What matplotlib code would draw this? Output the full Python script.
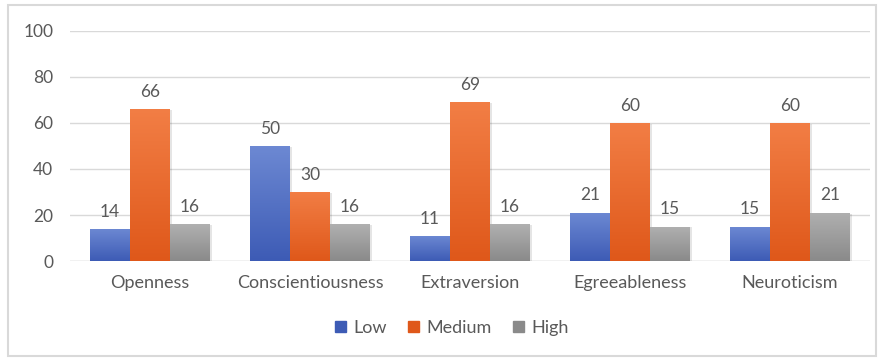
import numpy as np
import matplotlib
matplotlib.use("Agg")
import matplotlib.pyplot as plt
from matplotlib.colors import LinearSegmentedColormap
from matplotlib.patches import Rectangle

plt.rcParams['font.family'] = ['Lato', 'DejaVu Sans']

traits = ["Openness", "Conscientiousness", "Extraversion", "Egreeableness", "Neuroticism"]
low = [14, 50, 11, 21, 15]
medium = [66, 30, 69, 60, 60]
high = [16, 16, 16, 15, 21]
series_names = ["Low", "Medium", "High"]

# (top colour, bottom colour) for each series
shades = [("#6d89d3", "#3d5bb5"), ("#f27e45", "#df581a"), ("#b0b0b0", "#8a8a8a")]
text_col = "#595959"

fig = plt.figure(figsize=(8.81, 3.58), dpi=100)
ax = fig.add_axes([70 / 881, 97 / 358, 800 / 881, 230 / 358])

x = np.arange(len(traits))
w = 0.25
grad = np.linspace(0, 1, 256).reshape(-1, 1)

for i, (vals, name) in enumerate(zip([low, medium, high], series_names)):
    top, bottom = shades[i]
    cmap = LinearSegmentedColormap.from_list(name, [bottom, top])
    pos = x + (i - 1) * w
    bars = ax.bar(pos, vals, w, color=top, label=name, zorder=3)
    for b in bars:
        # soft shadow behind each bar
        sh = Rectangle((b.get_x() + 0.01, 0), b.get_width(), b.get_height() - 0.4,
                       facecolor="black", alpha=0.1, zorder=2.5, lw=0)
        ax.add_patch(sh)
        im = ax.imshow(grad, cmap=cmap, origin="lower", aspect="auto",
                       extent=[b.get_x(), b.get_x() + b.get_width(), 0, b.get_height()],
                       zorder=3.5)
        im.set_clip_path(b)
    for px, v in zip(pos, vals):
        ax.text(px, v + 4, str(v), ha="center", va="bottom", fontsize=12.5, color=text_col)

ax.set_xlim(-0.5, len(traits) - 0.5)
ax.set_ylim(0, 100)
ax.set_yticks(range(0, 101, 20))
ax.set_xticks(x)
ax.set_xticklabels(traits)
ax.tick_params(length=0, labelsize=13, colors=text_col, pad=10)
ax.tick_params(axis="y", labelsize=12.5, pad=12)
ax.grid(axis="y", color="#d9d9d9", lw=1, zorder=0)
for s in ax.spines.values():
    s.set_visible(False)
ax.axhline(0, color="#d9d9d9", lw=1, zorder=1)

handles = [Rectangle((0, 0), 1, 1, color=shades[i][1]) for i in range(3)]
fig.legend(handles, series_names, loc="center", bbox_to_anchor=(452 / 881, 1 - 328 / 358),
           ncol=3, frameon=False, fontsize=13, labelcolor=text_col,
           handlelength=0.6, handleheight=0.6, handletextpad=0.4, columnspacing=1.2)

# light frame around the chart
fig.patches.append(Rectangle((8 / 881, 2 / 358), 868 / 881, 351 / 358, transform=fig.transFigure,
                             fill=False, edgecolor="#d9d9d9", lw=1.5))

fig.savefig("out.png", dpi=100)
